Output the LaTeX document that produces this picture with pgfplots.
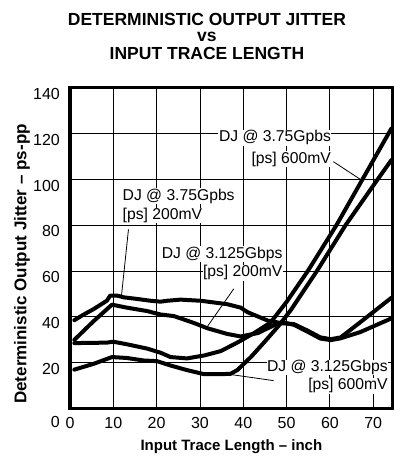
\documentclass[border=0pt]{standalone}
\usepackage{fontspec}
\setmainfont{Liberation Sans}
\usepackage{pgfplots}
\pgfplotsset{compat=1.18}
\newcommand\annfont{\fontsize{15.7bp}{18bp}\selectfont}
\newcommand\titlefont{\fontsize{17.5bp}{20bp}\selectfont\bfseries}
\tikzset{curve/.style={black, no markers, line width=4bp, line join=round, line cap=round}}
\begin{document}
\begin{tikzpicture}
\begin{axis}[
  scale only axis, width=322.7bp, height=320.3bp,
  xmin=0, xmax=74.5, ymin=0, ymax=140,
  xtick={0,10,...,70}, ytick={0,20,...,140},
  yticklabels={\raisebox{-7.4bp}[\height][0pt]{0},20,40,60,80,100,120,140},
  grid=major, grid style={black, line width=0.8bp},
  axis line style={black, line width=3bp},
  major tick length=0pt,
  /pgf/number format/assume math mode=true,
  ticklabel style={font=\fontsize{16bp}{19bp}\selectfont, inner sep=0pt},
  xticklabel style={anchor=base, yshift=-20bp},
  yticklabel style={anchor=east, xshift=-10bp, yshift=-6bp},
  clip=false,
]
% DJ @ 3.75 Gbps, 200 mV
\addplot[curve] coordinates {(1,38.5) (3,40.8) (5.4,43.3) (8.5,47) (9.3,49.3) (10.8,49.3) (12.4,48.5) (15.5,47.8) (18.6,47) (20.9,46.6) (22.4,47) (25.5,47.5) (30.2,47) (36.3,45.5) (39.4,44) (41,42) (45.7,38.3) (48.9,37.2) (51.7,36.8) (54.8,34) (57.8,31) (60.2,30.2) (62.5,31) (67,37.6) (74.2,48.3)};
% DJ @ 3.125 Gbps, 200 mV
\addplot[curve] coordinates {(1,29.9) (5.4,38) (9.7,45.3) (13.1,44) (17.8,42.5) (20.9,41) (24,40.3) (28.6,37.3) (31.7,35) (36.3,32.5) (39.4,31.4) (43.4,32.9) (47.3,36.5) (49.5,37.4) (51.7,36.5) (54.8,33.5) (57.8,30.5) (60.2,29.8) (62.5,30.6) (67,33.3) (74.2,39.3)};
% DJ @ 3.75 Gbps, 600 mV
\addplot[curve] coordinates {(1,28.5) (8.5,28.7) (10,29.1) (13.1,28) (17.8,26.1) (20.9,24.3) (23.2,22.4) (27,21.8) (31,23.1) (34.8,25) (38.7,28.8) (42.6,33) (46.3,37.5) (50,46.5) (54.9,60) (61.5,80) (67.5,100) (74.2,122.3)};
% DJ @ 3.125 Gbps, 600 mV
\addplot[curve] coordinates {(1,16.9) (5.4,19.4) (9.7,22.4) (13.1,22) (17,20.9) (20.1,20.6) (23.2,18.7) (27,16.7) (31,14.9) (34.8,14.9) (37.1,15.1) (38.7,16.8) (41.8,22.5) (45,29.2) (48.1,35.9) (51,43) (57,60) (63.6,80) (71,100) (74.2,108.5)};

% annotations
\begin{scope}[every node/.style={font=\annfont, fill=white, inner sep=0.5bp}]
\node[anchor=base east] at (axis cs:60.4,116.5) {DJ @ 3.75Gpbs};
\node[anchor=base east] at (axis cs:60.4,107.1) {[ps] 600mV};
\node[anchor=base west] at (axis cs:12,91) {DJ @ 3.75Gpbs};
\node[anchor=base west] at (axis cs:12,82.5) {[ps] 200mV};
\node[anchor=base east] at (axis cs:49.2,65.6) {DJ @ 3.125Gbps};
\node[anchor=base east] at (axis cs:49.2,57.5) {[ps] 200mV};
\node[anchor=base east] at (axis cs:73.5,16) {DJ @ 3.125Gbps};
\node[anchor=base east] at (axis cs:73.5,8) {[ps] 600mV};
\end{scope}
\draw[line width=0.8bp] (axis cs:60.8,107.8) -- (axis cs:67,100.1);
\draw[line width=0.8bp] (axis cs:13.5,78.2) -- (axis cs:11.9,49.5);
\draw[line width=0.8bp] (axis cs:37.8,52.2) -- (axis cs:31.7,35.7);
\draw[line width=0.8bp] (axis cs:47,12.1) -- (axis cs:36.6,14.9);
\end{axis}
% titles and labels
\node[font=\titlefont, anchor=base, inner sep=0pt] at ([xshift=-24.4bp, yshift=62bp]current axis.north) {DETERMINISTIC OUTPUT JITTER};
\node[font=\titlefont, anchor=base, inner sep=0pt] at ([xshift=-24.4bp, yshift=46.3bp]current axis.north) {vs};
\node[font=\titlefont, anchor=base, inner sep=0pt] at ([xshift=-24.4bp, yshift=28bp]current axis.north) {INPUT TRACE LENGTH};
\node[font=\fontsize{15bp}{18bp}\selectfont\bfseries, anchor=base] at ([yshift=-42bp]current axis.south) {Input Trace Length -- inch};
\node[font=\fontsize{17bp}{20bp}\selectfont\bfseries, anchor=base, rotate=90] at ([xshift=-43.5bp, yshift=144.3bp]current axis.south west) {Deterministic Output Jitter -- ps-pp};
\path ([xshift=-70bp, yshift=-48.7bp]current axis.south west) rectangle ([xshift=9.3bp, yshift=88bp]current axis.north east);
\end{tikzpicture}
\end{document}
